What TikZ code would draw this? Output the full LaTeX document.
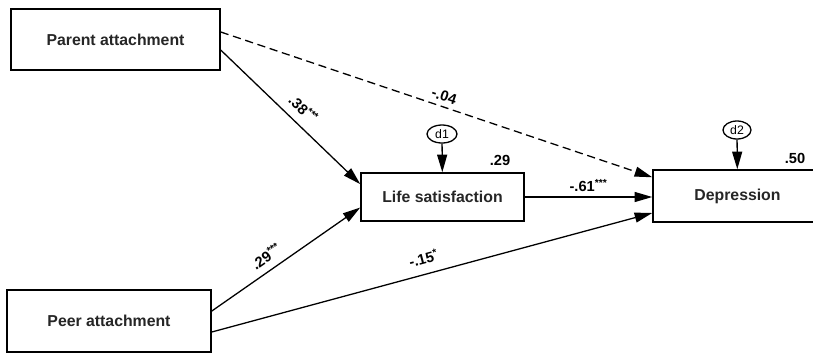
\documentclass[tikz,border=0pt]{standalone}
\usepackage{fontspec}
\setmainfont{Liberation Sans}
\usetikzlibrary{arrows.meta,shapes.geometric,positioning}
\tikzset{
	varbox/.style={
		draw, rectangle, line width=1.3pt, fill=white,
		inner sep=0pt, text=black!85,
		font=\fontsize{13.5}{16}\selectfont\bfseries
	},
	dist/.style={
		draw, ellipse, line width=1.1pt, inner sep=0pt,
		minimum width=0.9cm, minimum height=0.54cm,
		font=\fontsize{10.5}{12}\selectfont
	},
	path/.style={-{Triangle[length=15pt,width=8.5pt]}, line width=1.1pt},
	coef/.style={font=\fontsize{12.5}{14}\selectfont\bfseries, inner sep=1pt},
	rsq/.style={font=\fontsize{12.5}{14}\selectfont\bfseries}
}

\begin{document}
\begin{tikzpicture}[x=0.03cm, y=-0.03cm]
	\clip (0,0) rectangle (813,353);
	\node[varbox, minimum width=6.27cm, minimum height=1.83cm] (parent) at (115.5,39.5) {Parent attachment};
	\node[varbox, minimum width=6.12cm, minimum height=1.86cm] (peer) at (109,321) {Peer attachment};
	\node[varbox, minimum width=4.89cm, minimum height=1.44cm] (life) at (442.5,197) {Life satisfaction};
	\node[varbox, minimum width=5.07cm, minimum height=1.56cm] (dep) at (737.5,196) {Depression};
	\node[dist] (d1) at (442,134) {d1};
	\node[dist, minimum width=0.84cm] (d2) at (737,130) {d2};
	\node[rsq] (r1) at (500,160) {.29};
	\node[rsq] (r2) at (795,158) {.50};
	% disturbances
	\draw[path] (d1) -- (life);
	\draw[path] (d2) -- (dep);
	% structural paths
	\draw[path] ([yshift=-9pt]parent.east) -- node[coef, sloped, above=6pt, pos=0.52] {.38\textsuperscript{***}} ([yshift=11pt]life.west);
	\draw[path, dash pattern=on 7pt off 4pt] ([yshift=6.4pt]parent.east) -- node[coef, sloped, above=3pt, pos=0.51] {-.04} ([yshift=16pt]dep.west);
	\draw[path] ([yshift=8.5pt]peer.east) -- node[coef, sloped, above=5pt, pos=0.42] {.29\textsuperscript{***}} ([yshift=-9pt]life.west);
	\draw[path] ([yshift=-9.4pt]peer.east) -- node[coef, sloped, above=7pt, pos=0.49] {-.15\textsuperscript{*}} ([yshift=-14.5pt]dep.west);
	\draw[path] (life.east) -- node[coef, above=3pt, pos=0.5] {-.61\textsuperscript{***}} (life.east -| dep.west);
\end{tikzpicture}
\end{document}
